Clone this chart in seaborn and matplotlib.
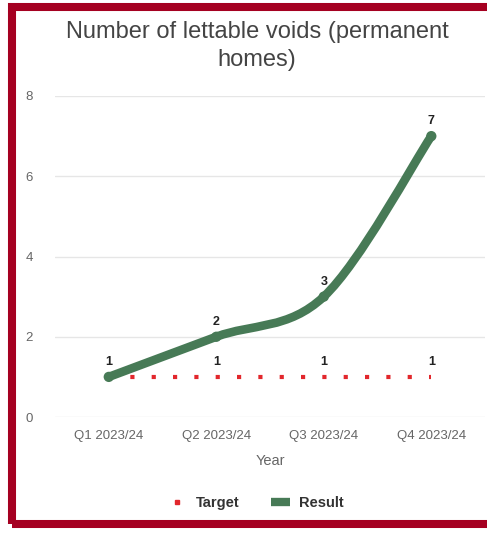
import pandas as pd
import seaborn as sns
import matplotlib.pyplot as plt
from matplotlib.path import Path
from matplotlib.patches import PathPatch, Rectangle
from matplotlib.lines import Line2D

quarters = ["Q1 2023/24", "Q2 2023/24", "Q3 2023/24", "Q4 2023/24"]
target = [1, 1, 1, 1]
result = [1, 2, 3, 7]

df = pd.DataFrame({"Year": quarters, "Target": target, "Result": result})
df["x"] = range(len(df))

green = "#477a56"
red = "#e2272c"

sns.set_theme(style="white")
plt.rcParams["font.family"] = ["Liberation Sans", "DejaVu Sans"]
fig = plt.figure(figsize=(4.87, 5.33), dpi=100)
ax = fig.add_axes([0.113, 0.2176, 0.883, 0.6023])

# target: dotted red line
sns.lineplot(data=df, x="x", y="Target", ax=ax, color=red, linewidth=3,
             linestyle=(0, (1, 4.12)), dash_capstyle="butt", zorder=2)

# result: smooth curve (catmull-rom -> bezier)
pts = list(zip(df["x"], df["Result"]))
verts = [pts[0]]
codes = [Path.MOVETO]
for i in range(len(pts) - 1):
    p0 = pts[max(i - 1, 0)]
    p1 = pts[i]
    p2 = pts[i + 1]
    p3 = pts[min(i + 2, len(pts) - 1)]
    c1 = (p1[0] + (p2[0] - p0[0]) / 6, p1[1] + (p2[1] - p0[1]) / 6)
    c2 = (p2[0] - (p3[0] - p1[0]) / 6, p2[1] - (p3[1] - p1[1]) / 6)
    verts += [c1, c2, p2]
    codes += [Path.CURVE4] * 3
ax.add_patch(PathPatch(Path(verts, codes), facecolor="none", edgecolor=green,
                       linewidth=6.2, capstyle="round", zorder=3))
sns.scatterplot(data=df, x="x", y="Result", ax=ax, color=green, s=55,
                edgecolor="none", zorder=4)

# data labels
for i, row in df.iterrows():
    ax.annotate(str(row["Result"]), (row["x"], row["Result"]), xytext=(0, 6.5),
                textcoords="offset points", ha="center", va="bottom",
                fontsize=9, fontweight="bold", color="#222222")
    if i > 0:
        ax.annotate(str(row["Target"]), (row["x"], row["Target"]), xytext=(0, 6.5),
                    textcoords="offset points", ha="center", va="bottom",
                    fontsize=9, fontweight="bold", color="#222222")

ax.set_xlim(-0.5, 3.5)
ax.set_ylim(0, 8)
ax.set_xticks(df["x"])
ax.set_xticklabels(quarters)
ax.set_yticks([0, 2, 4, 6, 8])
ax.grid(axis="y", color="#e6e6e6", linewidth=1)
ax.set_axisbelow(True)
for s in ax.spines.values():
    s.set_visible(False)
ax.tick_params(axis="both", length=0, labelsize=9.5, colors="#666666")
ax.tick_params(axis="y", pad=16)
ax.tick_params(axis="x", pad=9)
ax.set_xlabel("Year", fontsize=10.5, color="#666666", labelpad=9)
ax.set_ylabel("")

fig.text(0.528, 0.913, "Number of lettable voids (permanent\nhomes)",
         ha="center", va="center", fontsize=17, color="#444444", linespacing=1.35)

handles = [
    Line2D([], [], color=red, marker="s", markersize=3.5, linestyle="none"),
    Line2D([], [], color=green, linewidth=6, solid_capstyle="butt"),
]
fig.legend(handles, ["Target", "Result"], loc="center", bbox_to_anchor=(0.525, 0.056),
           ncol=2, frameon=False, handlelength=1.3, columnspacing=2.2,
           handletextpad=0.6, prop={"weight": "bold", "size": 10.5},
           labelcolor="#333333")

fig.add_artist(Rectangle((12 / 487, 1 - 524 / 533), (492 - 12) / 487, (524 - 6.5) / 533,
                         transform=fig.transFigure, fill=False,
                         edgecolor="#a50021", linewidth=5.8))

fig.savefig("out.png", dpi=100)
